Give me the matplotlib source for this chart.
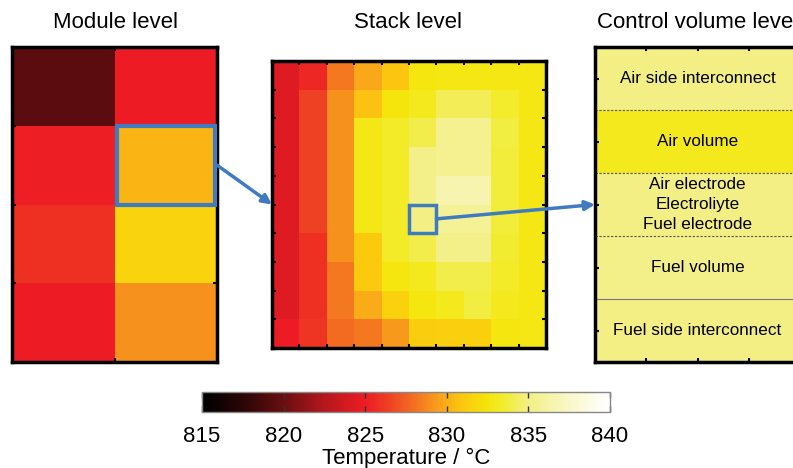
import matplotlib
matplotlib.use('Agg')
import matplotlib.pyplot as plt
import numpy as np
from matplotlib.colors import LinearSegmentedColormap, Normalize
from matplotlib.cm import ScalarMappable
from matplotlib.patches import Rectangle, ConnectionPatch

plt.rcParams['font.family'] = ['Liberation Sans', 'DejaVu Sans']

# temperature scale (degC)
t_min, t_max = 815, 840
cbar_ticks = [815, 820, 825, 830, 835, 840]

# module level: 4 rows x 2 columns, top row first
module_temps = np.array([
    [819.4, 825.0],
    [825.1, 830.3],
    [825.8, 831.6],
    [825.0, 829.0],
])

# stack level: 10 x 10 cells, top row first
stack_temps = np.array([
    [824.3, 825.5, 828.2, 829.8, 830.9, 832.6, 832.7, 832.7, 832.7, 832.7],
    [824.3, 826.5, 829.0, 830.8, 832.5, 833.0, 834.2, 834.2, 833.4, 832.7],
    [824.3, 826.5, 829.0, 832.8, 833.3, 834.0, 835.5, 835.5, 833.8, 832.7],
    [824.3, 826.5, 829.0, 832.8, 833.3, 835.2, 835.5, 835.5, 833.7, 832.7],
    [824.3, 826.5, 829.0, 832.8, 833.3, 835.2, 836.5, 836.5, 833.7, 832.7],
    [824.3, 826.5, 829.0, 832.8, 833.3, 835.0, 835.7, 835.7, 833.7, 832.7],
    [824.3, 825.8, 829.0, 831.1, 833.3, 834.0, 835.2, 835.2, 833.5, 832.7],
    [824.3, 825.8, 828.2, 831.1, 832.6, 833.0, 834.0, 834.0, 833.3, 832.7],
    [824.3, 825.8, 828.2, 829.9, 831.5, 832.6, 833.0, 833.8, 833.0, 832.7],
    [825.0, 826.0, 827.8, 828.2, 829.3, 831.3, 831.4, 831.4, 832.6, 832.7],
])

# control volume layers, top to bottom
layer_names = [
    'Air side interconnect',
    'Air volume',
    'Air electrode\nElectroliyte\nFuel electrode',
    'Fuel volume',
    'Fuel side interconnect',
]
layer_temps = [835.0, 833.0, 835.0, 835.2, 835.0]

# colour stops of the temperature map
cmap_stops = [
    (815.0, '#000000'),
    (817.5, '#2a0606'),
    (820.0, '#6a0e10'),
    (822.5, '#b5171d'),
    (825.0, '#ed1c24'),
    (826.5, '#ee4223'),
    (828.0, '#f37021'),
    (829.5, '#f8a01b'),
    (831.0, '#fbc80f'),
    (832.5, '#f5e50a'),
    (833.5, '#f2ec2e'),
    (835.0, '#f4ef84'),
    (837.5, '#f9f7c8'),
    (840.0, '#ffffff'),
]
cmap = LinearSegmentedColormap.from_list(
    'temp', [((t - t_min) / (t_max - t_min), c) for t, c in cmap_stops])
norm = Normalize(t_min, t_max)

blue = '#3e7bc0'
W, H = 793, 468
fig = plt.figure(figsize=(W / 100, H / 100), dpi=100)


def px_axes(left, top, right, bottom):
    return fig.add_axes([left / W, 1 - bottom / H, (right - left) / W, (bottom - top) / H])


def frame(ax, lw=2.5):
    for s in ax.spines.values():
        s.set_linewidth(lw)
        s.set_color('black')
    ax.tick_params(direction='in', length=3, width=1.5, top=True, right=True,
                   labelleft=False, labelbottom=False, colors='black')


# module level
ax_mod = px_axes(12, 47, 217, 362)
ax_mod.pcolormesh(np.arange(3), np.arange(5), module_temps, cmap=cmap, norm=norm)
ax_mod.set_xlim(0, 2)
ax_mod.set_ylim(4, 0)
ax_mod.set_xticks([1])
ax_mod.set_yticks([1, 2, 3])
frame(ax_mod)
ax_mod.add_patch(Rectangle((1.02, 1.0), 0.96, 1.0, fill=False, ec=blue, lw=3, zorder=5))

# stack level
ax_stk = px_axes(272, 61, 546, 348)
ax_stk.pcolormesh(np.arange(11), np.arange(11), stack_temps, cmap=cmap, norm=norm)
ax_stk.set_xlim(0, 10)
ax_stk.set_ylim(10, 0)
ax_stk.set_xticks(range(1, 10))
ax_stk.set_yticks(range(1, 10))
frame(ax_stk)
ax_stk.add_patch(Rectangle((5, 5), 1, 1, fill=False, ec=blue, lw=2.5, zorder=5))

# control volume level
ax_cv = px_axes(595, 47, 800, 362)
ax_cv.pcolormesh([0, 1], np.arange(6), np.array(layer_temps)[:, None], cmap=cmap, norm=norm)
ax_cv.set_xlim(0, 1)
ax_cv.set_ylim(5, 0)
ax_cv.set_xticks([0.25, 0.5, 0.75])
ax_cv.set_yticks([0.5, 1.5, 2.5, 3.5, 4.5])
frame(ax_cv)
for y in (1, 2, 3):
    ax_cv.axhline(y, color='#555555', lw=0.8, ls=(0, (2, 1.5)))
ax_cv.axhline(4, color='#777777', lw=0.8)
for i, name in enumerate(layer_names):
    ax_cv.text(0.5, i + 0.5, name, ha='center', va='center', fontsize=12.3,
               linespacing=1.4)

# arrows linking the levels
for xyA, axA, xyB, axB in [((2, 1.5), ax_mod, (0, 5.0), ax_stk),
                           ((6, 5.5), ax_stk, (0, 2.5), ax_cv)]:
    con = ConnectionPatch(xyA=xyA, coordsA=axA.transData, xyB=xyB, coordsB=axB.transData,
                          arrowstyle='-|>', color=blue, lw=2.5, mutation_scale=14,
                          shrinkA=0, shrinkB=0, zorder=6)
    fig.add_artist(con)

# titles; the right-hand one runs past the figure edge
fig.text(115 / W, 1 - 22 / H, 'Module level', ha='center', va='center', fontsize=16)
fig.text(408 / W, 1 - 22 / H, 'Stack level', ha='center', va='center', fontsize=16)
fig.text(597 / W, 1 - 22 / H, 'Control volume level', ha='left', va='center', fontsize=16)

# colour bar
cax = px_axes(202, 392, 610, 412)
cb = fig.colorbar(ScalarMappable(norm=norm, cmap=cmap), cax=cax, orientation='horizontal')
cb.set_ticks(cbar_ticks)
cb.outline.set_edgecolor('#888888')
cb.outline.set_linewidth(1)
cax.tick_params(direction='in', length=4, width=1, top=True, bottom=True,
                labelsize=16, pad=10, colors='#333333', labelcolor='black')
cax.set_xlabel('Temperature / °C', fontsize=16, labelpad=1)

fig.savefig('out.png', dpi=100)
